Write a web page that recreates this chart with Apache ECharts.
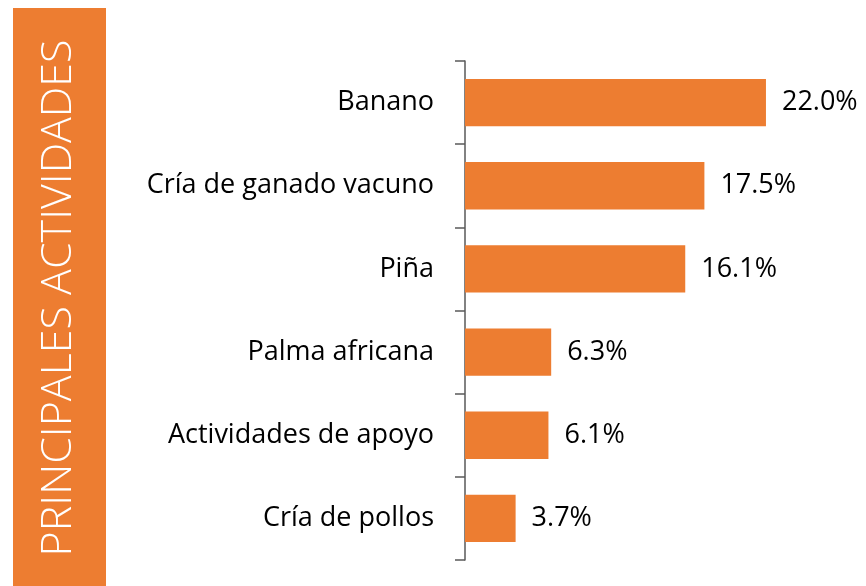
<!DOCTYPE html>
<html>
<head>
<meta charset="utf-8">
<script src="https://cdn.jsdelivr.net/npm/echarts@6/dist/echarts.min.js"></script>
<style>
  html, body { margin: 0; padding: 0; background: #fff; }
  #chart { width: 866px; height: 586px; }
</style>
</head>
<body>
<div id="chart"></div>
<script>
// categorias, de arriba hacia abajo
var actividades = ['Banano', 'Cría de ganado vacuno', 'Piña', 'Palma africana', 'Actividades de apoyo', 'Cría de pollos'];
var porcentajes = [22.0, 17.5, 16.1, 6.3, 6.1, 3.7];
var titulo = 'PRINCIPALES ACTIVIDADES';

var chart = echarts.init(document.getElementById('chart'));

var option = {
    animation: false,
    grid: { left: 465, right: 59, top: 61, bottom: 26 },
    xAxis: {
        type: 'value',
        min: 0,
        max: 25,
        show: false
    },
    yAxis: {
        type: 'category',
        inverse: true,
        data: actividades,
        axisLine: { show: true, lineStyle: { color: '#595959', width: 1.5 } },
        axisTick: { show: true, length: 10, lineStyle: { color: '#595959', width: 1.5 } },
        axisLabel: {
            color: '#000',
            fontSize: 27,
            fontFamily: 'Open Sans',
            margin: 31
        }
    },
    series: [{
        type: 'bar',
        data: porcentajes,
        barCategoryGap: '43%',
        itemStyle: { color: '#ED7D31' },
        label: {
            show: true,
            position: 'right',
            distance: 16,
            color: '#000',
            fontSize: 27,
            fontFamily: 'Open Sans',
            formatter: function (p) { return p.value.toFixed(1) + '%'; }
        }
    }],
    graphic: [
        {
            type: 'rect',
            shape: { x: 13, y: 8, width: 93, height: 578 },
            style: { fill: '#ED7D31' }
        },
        {
            type: 'text',
            x: 59,
            y: 298,
            rotation: Math.PI / 2,
            style: {
                text: titulo,
                fill: '#fff',
                fontSize: 43,
                fontWeight: 300,
                fontFamily: 'Open Sans',
                align: 'center',
                verticalAlign: 'middle'
            }
        }
    ]
};
chart.setOption(option);
</script>
</body>
</html>
